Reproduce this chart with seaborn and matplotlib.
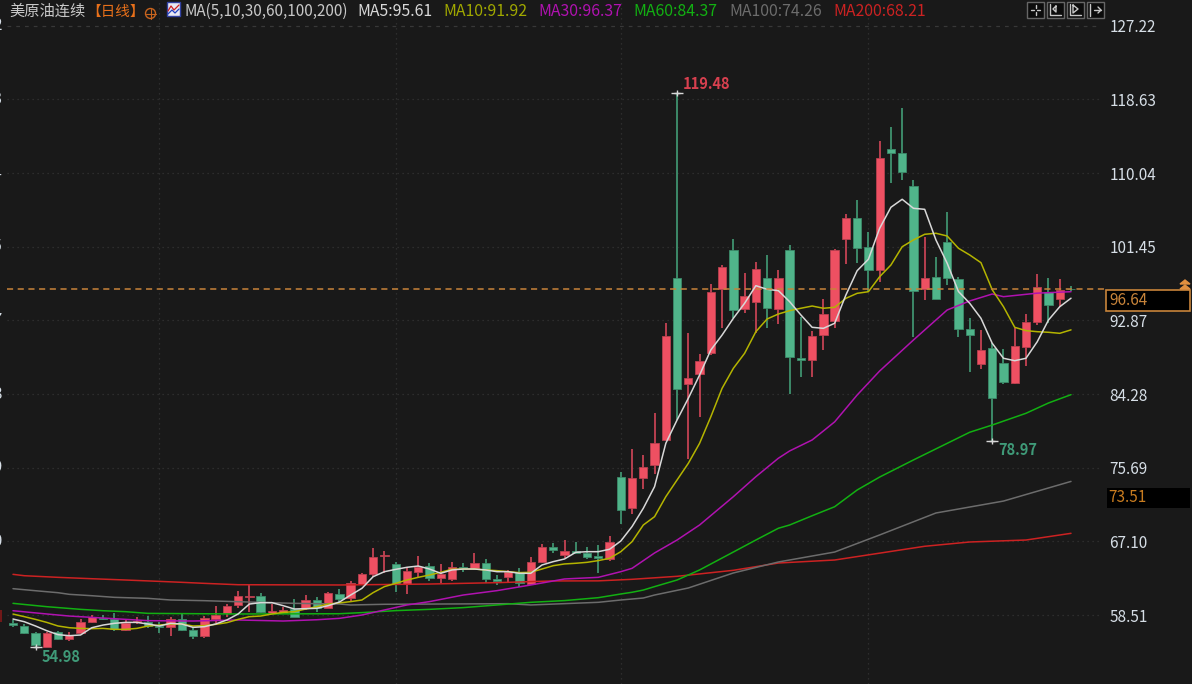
import pandas as pd
import matplotlib
matplotlib.use('Agg')
import matplotlib.pyplot as plt
from matplotlib.patches import Rectangle, Circle
import seaborn as sns

# daily candles, index 0 is the leftmost one
opens = [57.73, 57.45, 56.60, 55.00, 56.68, 55.93, 56.60, 57.91, 58.38, 58.19,
         56.91, 57.84, 57.84, 57.41, 57.33, 58.19, 56.91, 56.28, 58.23, 58.96,
         59.82, 60.83, 60.94, 58.96, 58.96, 59.36, 59.48, 60.48, 59.54, 61.14,
         60.64, 62.34, 63.44, 65.53, 64.64, 62.31, 63.74, 64.44, 63.04, 62.85,
         64.32, 64.20, 64.72, 62.85, 63.16, 63.67, 62.31, 64.90, 66.62, 65.72,
         66.19, 65.92, 65.60, 65.22, 74.81, 71.20, 74.69, 76.18, 79.05, 97.97,
         85.61, 86.78, 89.26, 96.65, 101.20, 94.36, 95.21, 97.97, 94.32, 101.20,
         88.64, 88.37, 91.29, 92.99, 102.51, 104.93, 101.61, 98.90, 112.97, 112.50,
         108.73, 96.69, 98.12, 102.20, 97.82, 91.99, 87.91, 89.77, 88.06, 85.70,
         89.96, 92.88, 96.37, 95.52, 96.70]
highs = [58.11, 57.65, 56.75, 56.75, 56.87, 56.75, 58.19, 58.66, 58.73, 58.89,
         58.19, 58.42, 58.57, 57.91, 58.42, 58.89, 57.27, 58.57, 59.78, 59.94,
         61.52, 62.19, 61.22, 59.94, 59.66, 60.52, 61.03, 60.75, 61.41, 61.69,
         62.69, 63.62, 66.50, 66.19, 64.90, 64.14, 65.60, 64.72, 64.60, 64.90,
         64.79, 65.95, 65.22, 63.36, 63.94, 64.14, 65.49, 66.93, 67.05, 67.43,
         67.24, 66.58, 66.81, 67.93, 75.39, 78.01, 77.31, 82.23, 92.69, 119.48,
         91.52, 89.08, 97.23, 99.45, 102.48, 98.52, 99.87, 100.61, 98.90, 101.78,
         93.46, 91.83, 95.49, 101.35, 105.43, 107.06, 103.36, 113.97, 115.60, 117.74,
         109.35, 102.78, 100.45, 105.70, 98.12, 93.27, 91.91, 90.36, 89.66, 92.10,
         93.74, 98.40, 97.97, 97.85, 96.98]
lows = [57.27, 56.45, 54.98, 55.00, 55.78, 55.70, 56.60, 57.80, 58.11, 56.83,
        56.87, 57.65, 57.14, 56.63, 56.28, 56.83, 55.90, 56.01, 57.73, 58.50,
        59.54, 59.08, 58.89, 58.81, 58.81, 58.42, 59.27, 59.08, 59.48, 60.24,
        60.24, 62.15, 63.16, 63.62, 61.41, 61.14, 62.97, 62.69, 62.39, 62.69,
        63.74, 63.94, 62.39, 62.19, 62.50, 62.00, 62.19, 64.72, 65.95, 65.30,
        65.77, 65.22, 63.56, 65.02, 69.30, 70.47, 73.38, 75.13, 78.97, 81.42,
        76.87, 81.80, 88.99, 92.17, 93.30, 93.92, 91.52, 92.17, 92.61, 84.45,
        86.47, 86.47, 89.58, 92.17, 99.60, 99.75, 96.34, 97.54, 109.08, 109.35,
        91.13, 95.40, 95.52, 97.15, 91.13, 87.05, 87.36, 78.97, 85.61, 85.61,
        87.75, 92.49, 92.76, 94.62, 96.40]
closes = [57.49, 56.60, 55.16, 56.60, 55.90, 56.40, 57.91, 58.42, 58.23, 57.07,
          57.80, 57.99, 57.41, 57.33, 58.19, 56.91, 56.28, 58.31, 58.66, 59.78,
          60.94, 60.94, 59.08, 59.19, 59.31, 58.50, 60.48, 59.48, 61.22, 60.59,
          62.39, 63.44, 65.49, 65.65, 62.27, 63.86, 64.32, 62.97, 63.44, 64.32,
          64.14, 64.72, 62.85, 62.69, 63.67, 62.39, 64.87, 66.62, 66.23, 66.19,
          65.88, 65.49, 65.33, 67.20, 70.89, 74.65, 75.94, 78.74, 91.25, 85.03,
          86.31, 88.33, 96.37, 99.28, 94.24, 95.90, 98.98, 94.51, 97.97, 88.79,
          88.37, 91.25, 93.74, 101.20, 104.93, 101.50, 98.90, 111.92, 112.57, 110.36,
          96.49, 97.97, 95.52, 98.00, 92.02, 91.29, 89.54, 83.98, 85.88, 90.08,
          92.88, 96.95, 94.79, 96.57, 96.64]

ma5 = [58.22, 57.91, 57.41, 56.86, 56.40, 56.28, 56.36, 57.21, 57.52, 57.72,
       57.83, 57.83, 57.64, 57.41, 57.72, 57.64, 57.25, 57.33, 57.64, 58.11,
       58.81, 59.97, 60.13, 60.13, 59.78, 59.39, 59.43, 59.47, 59.78, 60.20,
       61.02, 61.80, 63.16, 63.74, 64.01, 64.25, 64.40, 64.05, 63.55, 63.94,
       64.05, 64.05, 63.94, 63.74, 63.74, 63.55, 63.55, 64.52, 64.91, 65.22,
       66.00, 66.07, 66.07, 66.35, 67.31, 69.00, 71.13, 73.65, 78.70, 81.42,
       83.95, 86.66, 89.58, 91.32, 93.27, 95.02, 97.07, 96.65, 96.49, 95.21,
       93.66, 92.22, 92.10, 92.69, 95.99, 98.82, 100.15, 103.76, 106.21, 107.14,
       106.09, 105.97, 102.40, 99.68, 96.39, 95.02, 93.27, 90.36, 88.61, 88.33,
       88.61, 90.54, 93.07, 94.62, 95.61]
ma10 = [58.80, 58.50, 58.18, 57.83, 57.41, 57.21, 57.13, 57.10, 57.13, 57.02,
        57.02, 57.13, 57.41, 57.52, 57.64, 57.64, 57.41, 57.45, 57.60, 57.80,
        58.18, 58.50, 58.57, 58.81, 59.00, 59.08, 59.39, 59.66, 59.97, 60.10,
        60.25, 60.44, 61.30, 62.00, 62.38, 62.77, 63.08, 63.35, 63.67, 64.02,
        64.05, 64.05, 63.94, 63.86, 63.74, 63.63, 63.67, 64.05, 64.44, 64.64,
        64.72, 64.83, 65.03, 65.30, 66.07, 67.24, 69.18, 70.15, 72.48, 74.43,
        76.37, 78.70, 81.80, 85.11, 87.44, 89.19, 91.71, 93.19, 93.77, 94.16,
        94.44, 94.70, 94.44, 94.55, 95.60, 96.18, 96.37, 98.12, 99.48, 101.61,
        102.40, 103.06, 103.18, 102.86, 101.43, 100.65, 99.75, 96.60, 94.62, 92.22,
        91.83, 91.71, 91.64, 91.52, 91.92]

# the slow averages are read at fewer candles
ma30_idx = [0, 3, 5, 9, 12, 16, 20, 24, 27, 29, 31, 35, 37, 40, 43, 46, 49, 52, 54, 55,
            57, 59, 61, 64, 66, 68, 69, 71, 72, 73, 75, 77, 80, 83, 85, 87, 88, 91, 94]
ma30 = [59.19, 58.81, 58.57, 58.26, 58.03, 57.99, 58.11, 57.99, 58.14, 58.30, 58.69,
        59.86, 60.25, 61.02, 61.53, 62.19, 62.89, 63.08, 63.74, 64.13, 65.92, 67.43,
        69.18, 72.48, 74.81, 76.96, 77.81, 79.09, 80.14, 81.20, 84.33, 87.13, 90.74,
        94.24, 95.29, 96.10, 95.79, 96.20, 96.37]
ma60_idx = [0, 3, 6, 8, 10, 12, 20, 29, 31, 34, 37, 40, 43, 46, 49, 52, 54, 55, 56, 57, 59,
            61, 64, 66, 68, 69, 71, 73, 75, 77, 80, 85, 87, 90, 92, 94]
ma60 = [60.05, 59.66, 59.35, 59.19, 59.08, 58.88, 58.81, 58.84, 58.97, 59.20, 59.35,
        59.55, 59.86, 60.17, 60.37, 60.71, 61.14, 61.34, 61.60, 62.00, 62.77, 63.94,
        66.03, 67.43, 68.80, 69.18, 70.26, 71.31, 73.26, 74.77, 76.76, 79.99, 80.83,
        82.20, 83.40, 84.37]
ma100_idx = [0, 2, 4, 5, 7, 9, 12, 14, 17, 20, 25, 29, 30, 33, 44, 46, 52, 54, 56, 57, 60,
             64, 68, 73, 77, 82, 88, 94]
ma100 = [61.76, 61.52, 61.29, 61.10, 60.94, 60.75, 60.63, 60.44, 60.36, 60.24, 60.05,
         59.97, 59.86, 59.94, 60.01, 59.86, 60.17, 60.44, 60.67, 61.02, 61.84, 63.59,
         64.87, 66.03, 68.02, 70.58, 71.97, 74.26]
ma200_idx = [0, 1, 4, 7, 10, 13, 15, 17, 20, 29, 37, 43, 48, 52, 55, 59, 64, 68, 73, 77, 81, 85, 90, 94]
ma200 = [63.43, 63.27, 63.08, 62.92, 62.77, 62.61, 62.50, 62.38, 62.22, 62.19, 62.30,
         62.46, 62.66, 62.67, 62.85, 63.20, 63.90, 64.75, 65.10, 65.90, 66.70, 67.20,
         67.43, 68.21]

price_ticks = [127.22, 118.63, 110.04, 101.45, 92.87, 84.28, 75.69, 67.10, 58.51]
month_starts = [13, 34, 54, 76]
last_price = 96.64
ma100_tag = '73.51'

BG = '#191919'
RED = '#ee5062'
RED_WICK = '#b8404f'
GREEN = '#50b48a'
GREEN_WICK = '#3c8a69'
MA_COLORS = {'MA5': '#d8d8d8', 'MA10': '#b4b400', 'MA30': '#b012b0',
             'MA60': '#12b012', 'MA100': '#6c6c6c', 'MA200': '#cc2222'}

sns.set_theme(style='dark', rc={'axes.facecolor': BG, 'figure.facecolor': BG})
plt.rcParams['font.family'] = ['Noto Sans CJK SC', 'DejaVu Sans']

W, H = 1192, 684
fig = plt.figure(figsize=(W / 100, H / 100), dpi=100)
ax = fig.add_axes([0, 0, 1105 / W, 1])
ax.set_xlim(-1.155, 97.02)
ax.set_ylim(50.65, 130.365)

# candles
candles = pd.DataFrame({'open': opens, 'high': highs, 'low': lows, 'close': closes})
candles['idx'] = candles.index
up = candles['close'] >= candles['open']
ax.vlines(candles['idx'], candles['low'], candles['high'],
          colors=[RED_WICK if u else GREEN_WICK for u in up], lw=1.4, zorder=2)
ax.bar(candles['idx'], (candles['close'] - candles['open']).abs(),
       bottom=candles[['open', 'close']].min(axis=1), width=0.74,
       color=[RED if u else GREEN for u in up],
       edgecolor=[RED_WICK if u else GREEN_WICK for u in up], linewidth=0.6, zorder=3)

# moving averages
ma_frames = [
    ('MA200', ma200_idx, ma200), ('MA100', ma100_idx, ma100), ('MA60', ma60_idx, ma60),
    ('MA30', ma30_idx, ma30), ('MA10', list(range(len(ma10))), ma10), ('MA5', list(range(len(ma5))), ma5),
]
for name, idx, vals in ma_frames:
    sns.lineplot(x=idx, y=vals, color=MA_COLORS[name], lw=1.1, estimator=None, sort=False,
                 ax=ax, zorder=4, legend=False)

# extremes
ax.plot([59, 2, 87], [119.48, 54.98, 78.97], '_', color='#d8d8d8', ms=9, mew=1, zorder=5)
ax.plot([59, 2, 87], [119.48, 54.98, 78.97], '+', color='#d8d8d8', ms=5, mew=1, zorder=5)
ax.text(59.53, 120.58, '119.48', color='#d8404f', fontsize=10.5, weight='bold', va='center')
ax.text(87.5, 77.92, '78.97', color='#3f9a78', fontsize=10.5, weight='bold', va='center')
ax.text(2.5, 53.8, '54.98', color='#3f9a78', fontsize=10.5, weight='bold', va='center')

# the grid lines sit a hair above the nominal price in the source
grid_levels = [t + 0.16 for t in price_ticks]
ax.set_yticks(grid_levels)
ax.set_yticklabels([f'{t:.2f}' for t in price_ticks], color='#d6dee6', fontsize=11)
ax.yaxis.tick_right()
ax.tick_params(axis='y', length=0, pad=3)
ax.set_xticks(month_starts)
ax.tick_params(axis='x', labelbottom=False, length=0)
ax.grid(True, axis='x', color='#343434', ls=(0, (1, 3)), lw=0.9)
ax.grid(False, axis='y')
ax.hlines(grid_levels[1:], -0.53, 96.6, color='#343434', ls=(0, (1, 3)), lw=0.9, zorder=1)
ax.hlines(grid_levels[0], -0.53, 96.6, color='#383838', ls=(0, (3, 4)), lw=0.9, zorder=1)
ax.set_axisbelow(True)
for spine in ax.spines.values():
    spine.set_visible(False)
ax.set_xlabel('')
ax.set_ylabel('')

ax.hlines(last_price, -0.53, 96.9, color='#c8843a', lw=1.1, ls=(0, (4, 3)), zorder=6)

# left price scale, only its last digits are inside the window
for lvl, t in zip(grid_levels, price_ticks):
    if t != 58.51:
        ax.text(-0.93, lvl, f'{t:.2f}', color='#d6dee6', fontsize=11, ha='right', va='center', clip_on=False)

# overlay in pixels for header, price tags, buttons
ov = fig.add_axes([0, 0, 1, 1], facecolor='none')
ov.set_xlim(0, W)
ov.set_ylim(H, 0)
ov.axis('off')

FS = 11
ov.text(9, 11.5, '美原油连续', color='#c8c8c8', fontsize=FS, va='center')
ov.text(86, 11.5, '【日线】', color='#e8701a', fontsize=10.5, va='center')
ov.add_patch(Circle((150.5, 13.5), 5, fill=False, ec='#c8641e', lw=1))
ov.plot([145.5, 155.5], [13.5, 13.5], color='#c8641e', lw=0.8)
ov.plot([150.5, 150.5], [8.5, 18.5], color='#c8641e', lw=0.8)
ov.add_patch(Rectangle((167, 2), 13, 14, fc='#e8e8f4', ec='#3040a0', lw=1))
ov.plot([168, 171, 174, 179], [11, 6, 10, 5], color='#d02020', lw=0.9)
ov.plot([168, 172, 175, 179], [14, 10, 13, 9], color='#2040c0', lw=0.9)
ov.text(185, 11.5, 'MA(5,10,30,60,100,200)', color='#c8c8c8', fontsize=FS, va='center')
header = [(357, 'MA5:95.61', MA_COLORS['MA5']), (443, 'MA10:91.92', '#a0a800'),
          (538, 'MA30:96.37', MA_COLORS['MA30']), (633, 'MA60:84.37', MA_COLORS['MA60']),
          (729, 'MA100:74.26', '#6c6c6c'), (833, 'MA200:68.21', MA_COLORS['MA200'])]
for px, s, c in header:
    ov.text(px, 11.5, s, color=c, fontsize=FS + 0.4, va='center')

# buttons top right
for bx in (1027, 1047, 1067, 1087):
    ov.add_patch(Rectangle((bx, 2), 17, 16, fc='#0c0c0c', ec='#666666', lw=1))
ov.plot([1031, 1034], [10, 10], color='#c8c8c8', lw=1)
ov.plot([1037, 1040], [10, 10], color='#c8c8c8', lw=1)
ov.plot([1035.5, 1035.5], [5, 8], color='#c8c8c8', lw=1)
ov.plot([1035.5, 1035.5], [12, 15], color='#c8c8c8', lw=1)
ov.plot([1050, 1050, 1061], [4, 15, 15], color='#c8c8c8', lw=1)
ov.plot([1056, 1053, 1056, 1056], [6, 9, 12, 6], color='#c8c8c8', lw=1)
ov.plot([1070, 1070, 1081], [4, 15, 15], color='#c8c8c8', lw=1)
ov.plot([1073, 1078, 1073, 1073], [5, 9, 13, 5], color='#c8c8c8', lw=1)
ov.plot([1090, 1090], [4, 16], color='#c8c8c8', lw=1)
ov.plot([1094, 1101], [10, 10], color='#c8c8c8', lw=1)
ov.plot([1098, 1101, 1098], [7, 10, 13], color='#c8c8c8', lw=1)

# last price tag and MA100 tag
ov.add_patch(Rectangle((1106, 290), 84, 21, fc='black', ec='#c8843a', lw=1.2))
ov.text(1109, 300.5, f'{last_price:.2f}', color='#c8843a', fontsize=11, va='center')
ov.add_patch(Rectangle((1106.5, 488), 83.5, 20, fc='black', ec='none'))
ov.text(1108, 498, ma100_tag, color='#c87c20', fontsize=11, va='center')
ov.fill([1180, 1185, 1190], [284, 280, 284], color='#e09040')
ov.fill([1180, 1185, 1190], [289, 285, 289], color='#e09040')
# clipped tag of the left scale
ov.add_patch(Rectangle((0, 610), 1.5, 12, fc='#701818', ec='none'))

fig.savefig('out.png', dpi=100, facecolor=BG)
